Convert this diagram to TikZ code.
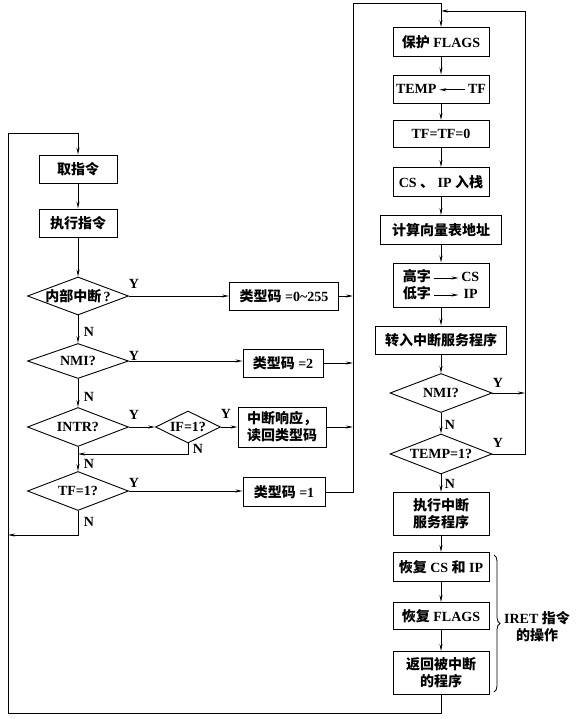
\documentclass[tikz,border=0pt]{standalone}
\usepackage{fontspec}
\setmainfont{Liberation Serif}
\newfontfamily\cjk{Noto Sans CJK SC}
\usetikzlibrary{shapes.geometric,arrows.meta,decorations.pathreplacing}
\newcommand{\cj}[1]{{\cjk\bfseries #1}}
\newcommand{\larrow}{\,\tikz[baseline=-0.6ex]\draw[{Stealth[length=7pt,width=3pt]}-,line width=0.9pt] (0pt,0pt)--(26pt,0pt);\,}
\newcommand{\rarrow}{\,\tikz[baseline=-0.6ex]\draw[-{Stealth[length=7pt,width=3pt]},line width=0.9pt] (0pt,0pt)--(25pt,0pt);\,}
\begin{document}
\begin{tikzpicture}[x=1pt,y=-1pt,
  txt/.style={font=\fontsize{14}{17}\selectfont\bfseries},
  box/.style={txt,draw,line width=0.9pt,inner sep=1pt,align=center,minimum height=28pt},
  dec/.style={diamond,draw,line width=0.9pt,inner sep=0pt,minimum width=101pt,minimum height=38pt},
  arr/.style={-{Stealth[length=7pt,width=3pt]},line width=0.9pt},
  lbl/.style={txt,inner sep=0pt}]
\useasboundingbox (0,0) rectangle (575,719);
% left column
\node[box,minimum width=78pt] (fetch) at (78,169) {\cj{取指令}};
\node[box,minimum width=78pt] (exec) at (78,223) {\cj{执行指令}};
\node[dec,label={[txt]center:\cj{内部中断}\,?}] (d1) at (78,296) {};
\node[dec,minimum height=35pt,label={[txt]center:NMI?}] (d2) at (78,361) {};
\node[dec,minimum height=39pt,label={[txt]center:INTR?}] (d3) at (78,427) {};
\node[dec,minimum width=65pt,minimum height=32pt,label={[txt]center:IF=1?}] (d4) at (188,427) {};
\node[dec,minimum height=39pt,label={[txt]center:TF=1?}] (d5) at (78,491) {};
\node[box,minimum width=109pt] (t1) at (284,296) {\cj{类型码} =0\textasciitilde 255};
\node[box,minimum width=80pt] (t2) at (283,363) {\cj{类型码} =2};
\node[box,minimum width=88pt,minimum height=40pt,inner sep=0pt] (t3) at (282,427) {\cj{中断响应，}\\\cj{读回类型码}};
\node[box,minimum width=82pt,minimum height=29pt] (t4) at (284,492) {\cj{类型码} =1};
% right column
\node[box,minimum width=96pt,minimum height=29pt] (r1) at (441,42) {\cj{保护} FLAGS};
\node[box,minimum width=96pt] (r2) at (441,89) {TEMP\larrow TF};
\node[box,minimum width=96pt,minimum height=27pt] (r3) at (441,134) {TF=TF=0};
\node[box,minimum width=96pt,minimum height=29pt] (r4) at (441,182) {CS \cj{、} IP \cj{入栈}};
\node[box,minimum width=121pt,minimum height=29pt] (r5) at (441,230) {\cj{计算向量表地址}};
\node[box,minimum width=96pt,minimum height=44pt,align=left,inner sep=0pt] (r6) at (441,285) {\cj{高字}\rarrow CS\\\cj{低字}\rarrow\,IP};
\node[box,minimum width=131pt] (r7) at (441,340) {\cj{转入中断服务程序}};
\node[dec,minimum width=102pt,minimum height=39pt,label={[txt]center:NMI?}] (rd1) at (441,393) {};
\node[dec,minimum width=102pt,minimum height=40pt,label={[txt]center:TEMP=1?}] (rd2) at (441,454) {};
\node[box,minimum width=96pt,minimum height=43pt,inner sep=0pt] (r8) at (441,514) {\cj{执行中断}\\\cj{服务程序}};
\node[box,minimum width=96pt,minimum height=29pt] (r9) at (441,567) {\cj{恢复} CS \cj{和} IP};
\node[box,minimum width=96pt,minimum height=27pt] (r10) at (441,616) {\cj{恢复} FLAGS};
\node[box,minimum width=96pt,minimum height=43pt,inner sep=0pt] (r11) at (441,673) {\cj{返回被中断}\\\cj{的程序}};
% labels
\node[lbl] (n1) at (89,332) {N};
\node[lbl] (y1) at (134,284) {Y};
\node[lbl] (y2) at (134,356) {Y};
\node[lbl] (n2) at (89,397) {N};
\node[lbl] (y3) at (134,415) {Y};
\node[lbl] (y4) at (226,414) {Y};
\node[lbl] (n4) at (198,449) {N};
\node[lbl] (n3) at (89,464) {N};
\node[lbl] (y5) at (134,483) {Y};
\node[lbl] (n5) at (89,522) {N};
\node[lbl] (y6) at (498,383) {Y};
\node[lbl] (n6) at (450,425) {N};
\node[lbl] (y7) at (498,443) {Y};
\node[lbl] (n7) at (450,484) {N};
\node[lbl,align=center] (iret) at (537,627) {IRET \cj{指令}\\\cj{的操作}};
% left connectors
\draw[arr] (fetch) -- (exec);
\draw[arr] (exec) -- (d1);
\draw[arr] (d1) -- (d2);
\draw[arr] (d2) -- (d3);
\draw[arr] (d3) -- (d5);
\draw[arr] (d1.east) -- (t1.west);
\draw[arr] (d2.east) -- (d2.east -| t2.west);
\draw[arr] (d3.east) -- (d4.west);
\draw[arr] (d4.east) -- (t3.west);
\draw[arr] (d5.east) -- (d5.east -| t4.west);
\coordinate (j1) at (78,454);
\draw[arr] (d4.south) |- (j1);
\coordinate (lx) at (8,535);
\draw[arr] (d5.south) |- (lx);
\coordinate (c1) at (353,296);
\coordinate (c2) at (353,363);
\coordinate (c3) at (353,427);
\coordinate (ctop) at (353,3);
\draw[arr] (t1.east) -- (c1);
\draw[arr] (t2.east) -- (c2);
\draw[arr] (t3.east) -- (c3);
\draw[arr] (t4.east) -| (ctop) -| (r1.north);
% right connectors
\draw[arr] (r1) -- (r2);
\draw[arr] (r2) -- (r3);
\draw[arr] (r3) -- (r4);
\draw[arr] (r4) -- (r5);
\draw[arr] (r5) -- (r6);
\draw[arr] (r6) -- (r7);
\draw[arr] (r7) -- (rd1);
\draw[arr] (rd1) -- (rd2);
\draw[arr] (rd2) -- (r8);
\draw[arr] (r8) -- (r9);
\draw[arr] (r9) -- (r10);
\draw[arr] (r10) -- (r11);
\coordinate (rx) at (525,393);
\coordinate (rtop) at (525,11);
\coordinate (rend) at (441,11);
\draw[arr] (rd1.east) -- (rx);
\draw[arr] (rd2.east) -| (rtop) -- (rend);
% bottom loop
\coordinate (bl) at (8,713);
\coordinate (tl) at (8,133);
\draw[arr] (r11.south) |- (bl) -- (tl) -| (fetch.north);
% brace
\coordinate (b1) at (494,555);
\coordinate (b2) at (494,692);
\draw[line width=0.8pt,decorate,decoration={brace,amplitude=6pt}] (b1) -- (b2);
\end{tikzpicture}
\end{document}
